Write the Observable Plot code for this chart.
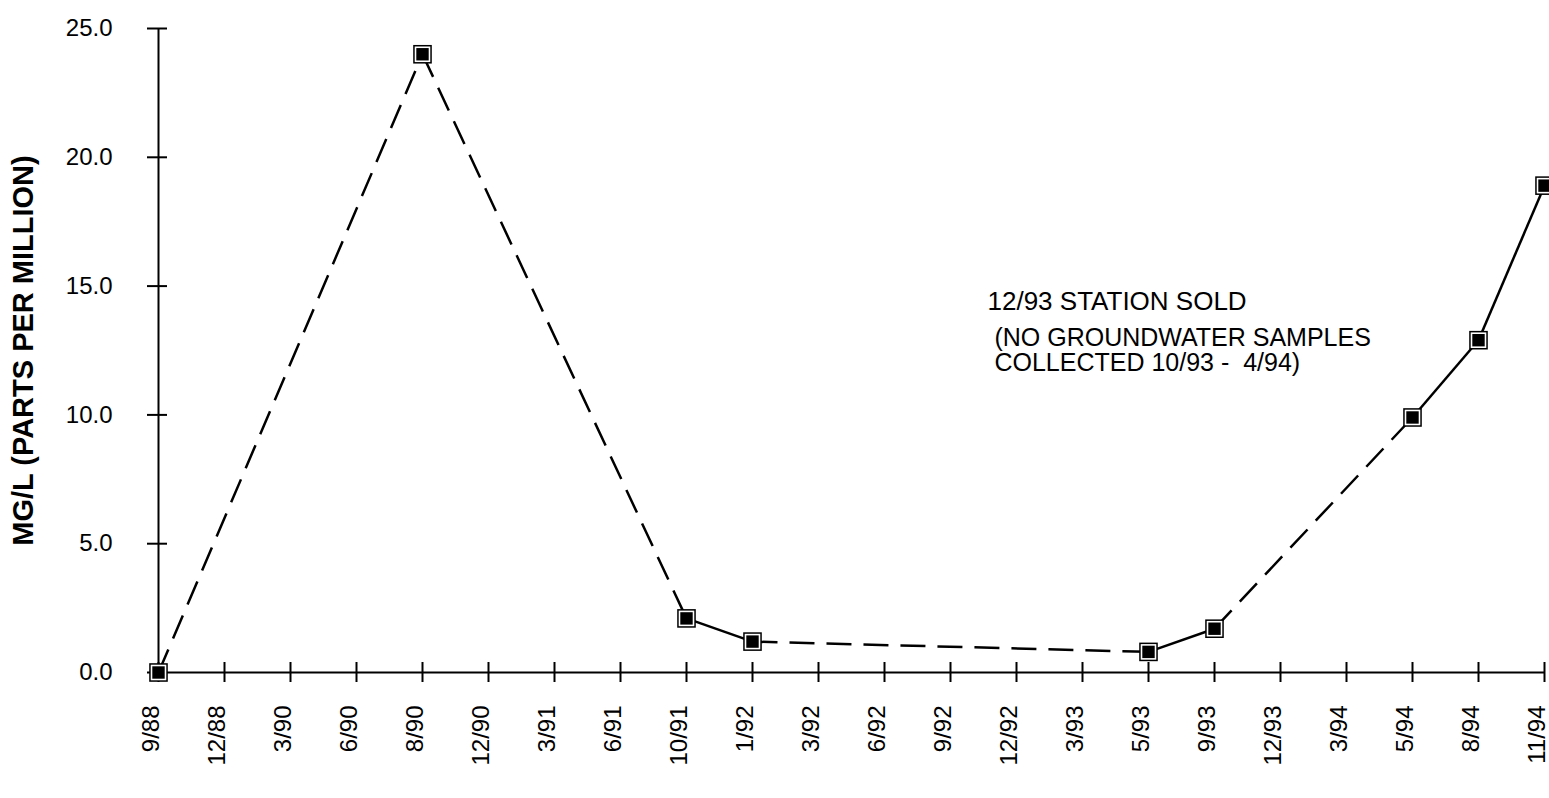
<!DOCTYPE html>
<html><head><meta charset="utf-8">
<script src="https://cdn.jsdelivr.net/npm/d3@7"></script>
<script src="https://cdn.jsdelivr.net/npm/@observablehq/plot@0.6"></script>
<style>body{margin:0;background:#fff} svg{display:block} svg text{white-space:pre}</style>
</head><body><div id="chart"></div>
<script>
const tickDates = ["9/88","12/88","3/90","6/90","8/90","12/90","3/91","6/91","10/91","1/92","3/92","6/92","9/92","12/92","3/93","5/93","9/93","12/93","3/94","5/94","8/94","11/94"];
const sampleDates = ["9/88","8/90","10/91","1/92","5/93","9/93","5/94","8/94","11/94"];
const values = [0.0, 24.0, 2.1, 1.2, 0.8, 1.7, 9.9, 12.9, 18.9];
const yTicks = [0, 5, 10, 15, 20, 25];
const yTitle = "MG/L (PARTS PER MILLION)";
const noteLines = ["12/93 STATION SOLD", " (NO GROUNDWATER SAMPLES", " COLLECTED 10/93 -  4/94)"];
const noteY = [14.4, 13.0, 12.0];

const samples = sampleDates.map((d, i) => ({date: d, value: values[i]}));
const segments = d3.pairs(samples).map(([a, b]) => ({
  x1: a.date, y1: a.value, x2: b.date, y2: b.value,
  gap: tickDates.indexOf(b.date) - tickDates.indexOf(a.date) > 1
}));
const notes = noteLines.map((t, i) => ({text: t, y: noteY[i], first: i === 0}));

const chart = Plot.plot({
  width: 1549, height: 798,
  marginLeft: 157, marginRight: 4, marginTop: 28, marginBottom: 126,
  style: {fontFamily: "'Liberation Sans', Arial, sans-serif", background: "#fff", color: "#000"},
  x: {type: "point", domain: tickDates, padding: 0},
  y: {domain: [0, 25]},
  marks: [
    Plot.ruleY([0], {stroke: "#000", strokeWidth: 2}),
    Plot.ruleX([tickDates[0]], {y1: 0, y2: 25, stroke: "#000", strokeWidth: 2}),
    Plot.axisY({ticks: yTicks, tickSize: 20, dx: 10, tickPadding: 35, tickFormat: d => d.toFixed(1), fontSize: 24, label: null, strokeWidth: 2}),
    Plot.axisX({tickSize: 20, dy: -10, tickFormat: () => "", label: null, strokeWidth: 2}),
    Plot.axisX({tickSize: 0, tickRotate: -90, dx: -7, tickPadding: 33, fontSize: 24, label: null}),
    Plot.text([yTitle], {frameAnchor: "left", textAnchor: "middle", dx: -134, rotate: -90, fontWeight: "bold", fontSize: 29, letterSpacing: 3.3}),
    Plot.link(segments.filter(d => d.gap), {x1: "x1", y1: "y1", x2: "x2", y2: "y2", stroke: "#000", strokeWidth: 2.5, strokeDasharray: "25,12"}),
    Plot.link(segments.filter(d => !d.gap), {x1: "x1", y1: "y1", x2: "x2", y2: "y2", stroke: "#000", strokeWidth: 2.5}),
    Plot.dot(samples, {x: "date", y: "value", symbol: "square", r: 10.5, fill: "#000"}),
    Plot.dot(samples, {x: "date", y: "value", symbol: "square", r: 8.8, fill: "#fff"}),
    Plot.dot(samples, {x: "date", y: "value", symbol: "square", r: 7, fill: "#000"}),
    Plot.text(notes.filter(d => d.first), {x: () => "12/92", y: "y", text: "text", dx: -29, textAnchor: "start", fontSize: 26}),
    Plot.text(notes.filter(d => !d.first), {x: () => "12/92", y: "y", text: "text", dx: -29, textAnchor: "start", fontSize: 25})
  ]
});
document.getElementById("chart").append(chart);
</script></body></html>
